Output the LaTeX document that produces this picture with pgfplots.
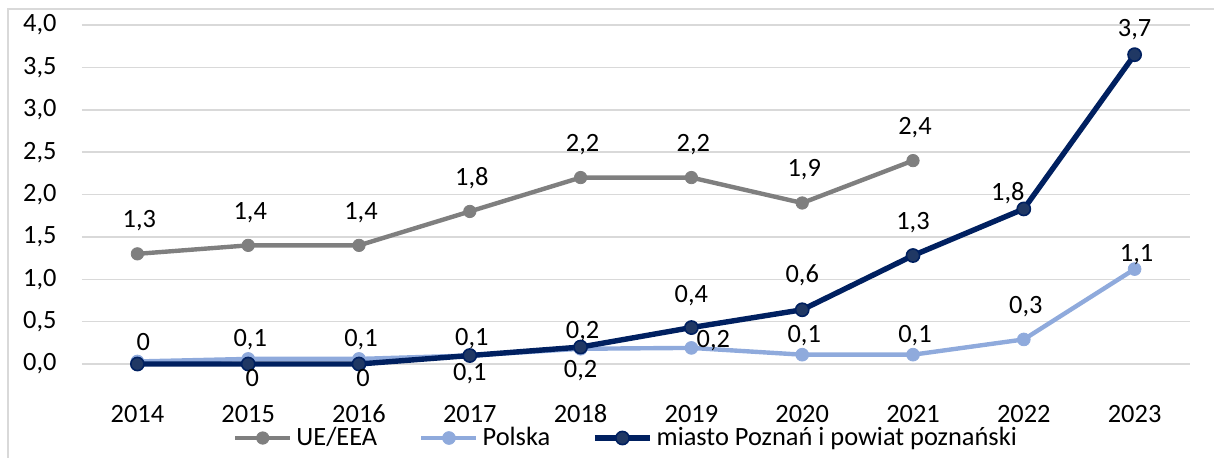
\documentclass[border=0pt]{standalone}
\usepackage{fontspec}
\setmainfont{Carlito}
\usepackage{pgfplots}
\pgfplotsset{compat=1.18}
\usepackage{pgfplotstable}
\usetikzlibrary{calc}

\definecolor{ueGray}{HTML}{7F7F7F}
\definecolor{plBlue}{HTML}{8FAADC}
\definecolor{pozNavy}{HTML}{002060}
\definecolor{pozFill}{HTML}{203864}
\definecolor{gridGray}{HTML}{D9D9D9}

\newcommand{\chartfont}{\fontsize{13.2}{15.5}\selectfont}

% x  y  label  label shift (pt)
\pgfplotstableread{
x    y    lab  dx   dy
2014 1.3  1,3  1    13
2015 1.4  1,4  1    13
2016 1.4  1,4  1    13
2017 1.8  1,8  1    13
2018 2.2  2,2  1    13
2019 2.2  2,2  1    13
2020 1.9  1,9  1    13
2021 2.4  2,4  1    13
}\ueData

\pgfplotstableread{
x    y    lab  dx   dy
2014 0.03 0    3    5.5
2015 0.06 0,1  1    6
2016 0.06 0,1  1    6
2017 0.10 0,1  1    5
2018 0.18 0,2  1    5
2019 0.19 0,2  11   0
2020 0.11 0,1  1    6
2021 0.11 0,1  1    6
2022 0.29 0,3  1    13
2023 1.12 1,1  1    4
}\plData

\pgfplotstableread{
x    y    lab  dx   dy
2014 0.00 {}   0    0
2015 0.00 0    2    -11
2016 0.00 0    2    -11
2017 0.10 0,1  0    -12.5
2018 0.20 0,2  0    -15
2019 0.43 0,4  0    12.5
2020 0.64 0,6  0    13.5
2021 1.28 1,3  0    13
2022 1.83 1,8  -8   4
2023 3.65 3,7  0    9
}\pozData

\begin{document}
\begin{tikzpicture}
\begin{axis}[
    name=ax,
    scale only axis,
    width=554pt, height=169.5pt,
    xmin=2013.5, xmax=2023.5,
    ymin=0, ymax=4,
    xtick={2014,2015,2016,2017,2018,2019,2020,2021,2022,2023},
    ytick={0,0.5,1,1.5,2,2.5,3,3.5,4},
    /pgf/number format/assume math mode=true,
    x tick label style={/pgf/number format/1000 sep={}},
    y tick label style={/pgf/number format/fixed, /pgf/number format/fixed zerofill,
        /pgf/number format/precision=1, /pgf/number format/use comma},
    tick label style={font=\chartfont},
    xticklabel style={anchor=base, yshift=-29pt},
    yticklabel style={anchor=east, inner xsep=0pt, xshift=-12.5pt},
    axis line style={draw=none},
    major tick length=0pt,
    ymajorgrids,
    grid style={gridGray, line width=0.75pt},
    clip=false,
    point meta=explicit symbolic,
    visualization depends on={\thisrow{dx}\as\labdx},
    visualization depends on={\thisrow{dy}\as\labdy},
    nodes near coords,
    nodes near coords style={anchor=base, inner sep=0pt, text=black,
        font=\chartfont, xshift=\labdx pt, yshift=\labdy pt},
    legend columns=-1,
    legend style={at={(0.5,0)}, anchor=center, yshift=-37pt, xshift=-4.5pt,
        draw=none, fill=none, font=\chartfont,
        nodes={inner xsep=2pt},
        /tikz/every even column/.append style={column sep=19pt}},
    legend image code/.code={
        \draw[mark repeat=2, mark phase=2, #1]
            plot coordinates {(0pt,0pt) (13.75pt,0pt) (27.5pt,0pt)};
    },
]
\addplot[ueGray, line width=2.2pt, mark=*, mark size=3.1pt,
    mark options={solid, line width=0.4pt, fill=ueGray}]
    table[x=x, y=y, meta=lab] {\ueData};
\addlegendentry{UE/EEA}

\addplot[plBlue, line width=2.2pt, mark=*, mark size=3.2pt,
    mark options={solid, line width=0.4pt, fill=plBlue}]
    table[x=x, y=y, meta=lab] {\plData};
\addlegendentry{Polska}

\addplot[pozNavy, line width=2.7pt, mark=*, mark size=3.3pt,
    mark options={solid, line width=0.8pt, draw=pozNavy, fill=pozFill}]
    table[x=x, y=y, meta=lab] {\pozData};
\addlegendentry{miasto Poznań i powiat poznański}
\end{axis}

\draw[gridGray, line width=0.75pt]
    ($(ax.south west)+(-37pt,-80pt)$) rectangle ($(ax.south west)+(700pt,177.5pt)$);
\pgfresetboundingbox
\path[use as bounding box]
    ($(ax.south west)+(-41pt,-46.5pt)$) rectangle ($(ax.south west)+(566pt,182pt)$);
\end{tikzpicture}
\end{document}
